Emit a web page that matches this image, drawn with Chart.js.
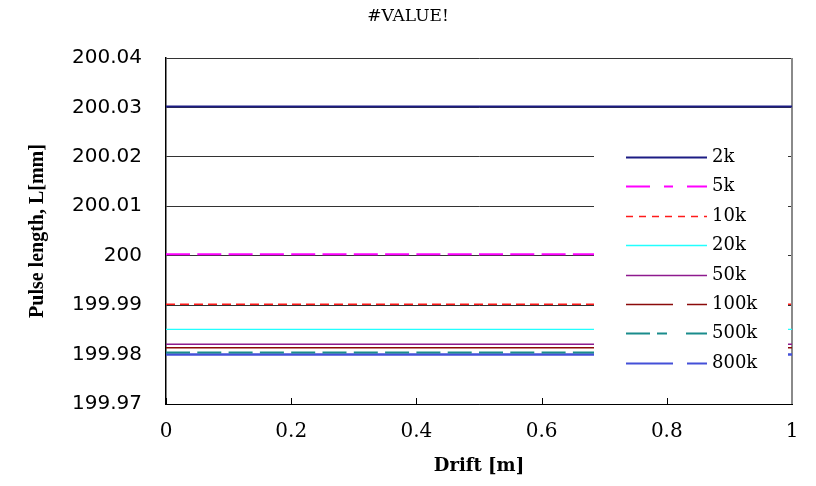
<!DOCTYPE html>
<html>
<head>
<meta charset="utf-8">
<script src="https://cdn.jsdelivr.net/npm/chart.js@4.4.1/dist/chart.umd.min.js"></script>
<style>
  html, body { margin: 0; padding: 0; background: #fff; }
  #wrap { width: 816px; height: 486px; }
</style>
</head>
<body>
<div id="wrap"><canvas id="pulseChart" width="816" height="486"></canvas></div>
<script>
// drift positions [m]
const drift = [0, 0.05, 0.1, 0.15, 0.2, 0.25, 0.3, 0.35, 0.4, 0.45, 0.5,
               0.55, 0.6, 0.65, 0.7, 0.75, 0.8, 0.85, 0.9, 0.95, 1];

const seriesNames = ['2k', '5k', '10k', '20k', '50k', '100k', '500k', '800k'];

// pulse length L [mm] per series
const len2k   = [200.0302, 200.0302, 200.0302, 200.0302, 200.0302, 200.0302, 200.0302, 200.0302, 200.0302, 200.0302, 200.0302,
                 200.0302, 200.0302, 200.0302, 200.0302, 200.0302, 200.0302, 200.0302, 200.0302, 200.0302, 200.0302];
const len5k   = [200.0003, 200.0003, 200.0003, 200.0003, 200.0003, 200.0003, 200.0003, 200.0003, 200.0003, 200.0003, 200.0003,
                 200.0003, 200.0003, 200.0003, 200.0003, 200.0003, 200.0003, 200.0003, 200.0003, 200.0003, 200.0003];
const len10k  = [199.9902, 199.9902, 199.9902, 199.9902, 199.9902, 199.9902, 199.9902, 199.9902, 199.9902, 199.9902, 199.9902,
                 199.9902, 199.9902, 199.9902, 199.9902, 199.9902, 199.9902, 199.9902, 199.9902, 199.9902, 199.9902];
const len20k  = [199.9851, 199.9851, 199.9851, 199.9851, 199.9851, 199.9851, 199.9851, 199.9851, 199.9851, 199.9851, 199.9851,
                 199.9851, 199.9851, 199.9851, 199.9851, 199.9851, 199.9851, 199.9851, 199.9851, 199.9851, 199.9851];
const len50k  = [199.9821, 199.9821, 199.9821, 199.9821, 199.9821, 199.9821, 199.9821, 199.9821, 199.9821, 199.9821, 199.9821,
                 199.9821, 199.9821, 199.9821, 199.9821, 199.9821, 199.9821, 199.9821, 199.9821, 199.9821, 199.9821];
const len100k = [199.9814, 199.9814, 199.9814, 199.9814, 199.9814, 199.9814, 199.9814, 199.9814, 199.9814, 199.9814, 199.9814,
                 199.9814, 199.9814, 199.9814, 199.9814, 199.9814, 199.9814, 199.9814, 199.9814, 199.9814, 199.9814];
const len500k = [199.9804, 199.9804, 199.9804, 199.9804, 199.9804, 199.9804, 199.9804, 199.9804, 199.9804, 199.9804, 199.9804,
                 199.9804, 199.9804, 199.9804, 199.9804, 199.9804, 199.9804, 199.9804, 199.9804, 199.9804, 199.9804];
const len800k = [199.9800, 199.9800, 199.9800, 199.9800, 199.9800, 199.9800, 199.9800, 199.9800, 199.9800, 199.9800, 199.9800,
                 199.9800, 199.9800, 199.9800, 199.9800, 199.9800, 199.9800, 199.9800, 199.9800, 199.9800, 199.9800];

const seriesValues = [len2k, len5k, len10k, len20k, len50k, len100k, len500k, len800k];

const xTicks = [0, 0.2, 0.4, 0.6, 0.8, 1];
const yTicks = [199.97, 199.98, 199.99, 200, 200.01, 200.02, 200.03, 200.04];

// line styles (plot dash, legend dash)
const styles = [
  { color: '#1c1c84', width: 2,   dash: [],        legendDash: [] },
  { color: '#ff00ff', width: 2,   dash: [24, 7.3], legendDash: [24, 14, 9, 14] },
  { color: '#ff1a1a', width: 1.5, dash: [9, 5],    legendDash: [7, 6] },
  { color: '#22ffff', width: 1.2, dash: [],        legendDash: [] },
  { color: '#8e1a8e', width: 1.5, dash: [],        legendDash: [] },
  { color: '#8b0a0a', width: 1.5, dash: [],        legendDash: [47, 14] },
  { color: '#1a8c8c', width: 2,   dash: [24, 7.3], legendDash: [24, 7, 10, 19] },
  { color: '#4450d8', width: 2.5, dash: [],        legendDash: [47, 14] }
];

const frame = {
  id: 'frame',
  beforeDatasetsDraw(chart) {
    const { ctx, chartArea: a, scales: { x } } = chart;
    ctx.save();
    ctx.strokeStyle = '#000';
    ctx.lineWidth = 1;
    x.ticks.forEach(t => {
      const px = Math.round(x.getPixelForValue(t.value)) + 0.5;
      ctx.beginPath();
      ctx.moveTo(px, a.bottom);
      ctx.lineTo(px, a.bottom - 6);
      ctx.stroke();
    });
    ctx.strokeStyle = '#8a8a8a';
    ctx.lineWidth = 2;
    ctx.beginPath();
    ctx.moveTo(a.right, a.top);
    ctx.lineTo(a.right, a.bottom);
    ctx.stroke();
    ctx.restore();
  },
  afterDatasetsDraw(chart) {
    const { ctx } = chart;
    ctx.save();
    ctx.fillStyle = '#fff';
    ctx.fillRect(594, 135, 194, 246);
    ctx.font = "18px 'DejaVu Serif'";
    ctx.textBaseline = 'middle';
    ctx.fillStyle = '#000';
    chart.data.datasets.forEach((ds, i) => {
      const y = Math.round(157 + i * 29.4) + 0.5;
      ctx.strokeStyle = ds.borderColor;
      ctx.lineWidth = Math.max(1.5, Math.min(ds.borderWidth, 2));
      ctx.setLineDash(styles[i].legendDash);
      ctx.beginPath();
      ctx.moveTo(626, y);
      ctx.lineTo(707, y);
      ctx.stroke();
      ctx.setLineDash([]);
      ctx.fillText(ds.label, 712, y);
    });
    ctx.restore();
  }
};

new Chart(document.getElementById('pulseChart'), {
  type: 'line',
  data: {
    datasets: seriesNames.map((name, i) => ({
      label: name,
      data: drift.map((d, j) => ({ x: d, y: seriesValues[i][j] })),
      borderColor: styles[i].color,
      borderWidth: styles[i].width,
      borderDash: styles[i].dash,
      pointRadius: 0,
      tension: 0,
      fill: false
    }))
  },
  options: {
    responsive: false,
    animation: false,
    layout: { padding: 0 },
    plugins: {
      legend: { display: false },
      tooltip: { enabled: false },
      title: {
        display: true,
        text: '#VALUE!',
        color: '#000',
        font: { family: "'DejaVu Serif'", size: 17, weight: 'normal' },
        padding: { top: 6, bottom: 31.6 }
      }
    },
    scales: {
      x: {
        type: 'linear',
        min: 0,
        max: 1,
        afterBuildTicks: s => { s.ticks = xTicks.map(v => ({ value: v })); },
        afterFit: s => { s.height = 82; },
        grid: { display: false, drawTicks: false },
        border: { display: true, color: '#000', width: 1 },
        ticks: {
          padding: 16,
          color: '#000',
          font: { family: "'DejaVu Serif'", size: 20 },
          callback: v => String(+v.toFixed(1))
        },
        title: {
          display: true,
          text: 'Drift [m]',
          color: '#000',
          font: { family: "'DejaVu Serif'", size: 18, weight: 'bold' },
          padding: { top: 0, bottom: 9 }
        }
      },
      y: {
        type: 'linear',
        min: 199.97,
        max: 200.04,
        afterBuildTicks: s => { s.ticks = yTicks.map(v => ({ value: v })); },
        afterFit: s => { s.width = 166; },
        grid: { display: true, color: '#333', lineWidth: 1, drawTicks: false },
        border: { display: true, color: '#000', width: 1.5 },
        ticks: {
          padding: 24,
          color: '#000',
          font: { family: "'DejaVu Sans'", size: 20 },
          callback: v => String(+v.toFixed(2))
        },
        title: {
          display: true,
          text: 'Pulse length, L[mm]',
          color: '#000',
          font: { family: "'Liberation Serif'", size: 20, weight: 'bold' },
          padding: { top: 26, bottom: 0 }
        }
      },
      // empty right-hand strip so the plot ends at the same place as the reference
      yRight: {
        type: 'linear',
        position: 'right',
        display: true,
        grid: { display: false, drawTicks: false },
        border: { display: false },
        ticks: { display: false },
        afterFit: s => { s.width = 24; }
      }
    }
  },
  plugins: [frame]
});
</script>
</body>
</html>
